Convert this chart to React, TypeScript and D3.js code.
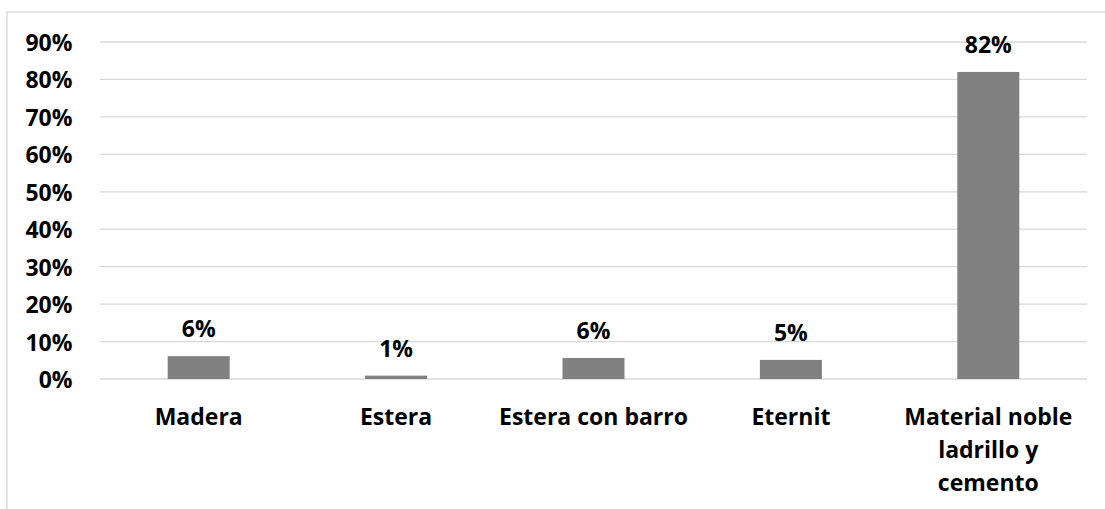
import React from "react";
import * as d3 from "d3";

const categories: string[][] = [
  ["Madera"],
  ["Estera"],
  ["Estera con barro"],
  ["Eternit"],
  ["Material noble", "ladrillo y", "cemento"],
];
const values: number[] = [0.061, 0.009, 0.056, 0.051, 0.82];
const valueLabels: string[] = ["6%", "1%", "6%", "5%", "82%"];
const yTicks: number[] = [0, 0.1, 0.2, 0.3, 0.4, 0.5, 0.6, 0.7, 0.8, 0.9];

const W = 1105;
const H = 509;
const FONT = "'Open Sans', 'Liberation Sans', Arial, sans-serif";
const FS = 23;

export default function App() {
  const x = d3
    .scaleBand<number>()
    .domain(d3.range(categories.length))
    .range([100, 1087])
    .paddingInner(0.686)
    .paddingOuter(0.343);
  const y = d3.scaleLinear().domain([0, 0.9]).range([379, 42]);
  const fmt = d3.format(".0%");

  return (
    <svg
      width={W}
      height={H}
      style={{ position: "absolute", left: 0, top: 0, background: "#fff" }}
      fontFamily={FONT}
    >
      <rect x={7} y={12} width={W + 20} height={H + 20} fill="#fff" stroke="#d9d9d9" strokeWidth={1.3} />
      {yTicks.map((t) => (
        <g key={t}>
          <line x1={100} x2={1087} y1={y(t)} y2={y(t)} stroke="#d9d9d9" strokeWidth={1.3} />
          <text
            x={72.5}
            y={y(t) + 9}
            textAnchor="end"
            fontSize={FS}
            fontWeight="bold"
            fill="#000"
          >
            {fmt(t)}
          </text>
        </g>
      ))}
      {values.map((v, i) => (
        <g key={i}>
          <rect
            x={x(i)!}
            y={y(v)}
            width={x.bandwidth()}
            height={y(0) - y(v)}
            fill="#808080"
          />
          <text
            x={x(i)! + x.bandwidth() / 2}
            y={y(v) - 19}
            textAnchor="middle"
            fontSize={FS}
            fontWeight="bold"
            fill="#000"
          >
            {valueLabels[i]}
          </text>
          {categories[i].map((line, j) => (
            <text
              key={j}
              x={x(i)! + x.bandwidth() / 2}
              y={424.5 + j * 33}
              textAnchor="middle"
              fontSize={FS}
              fontWeight="bold"
              fill="#000"
            >
              {line}
            </text>
          ))}
        </g>
      ))}
    </svg>
  );
}
